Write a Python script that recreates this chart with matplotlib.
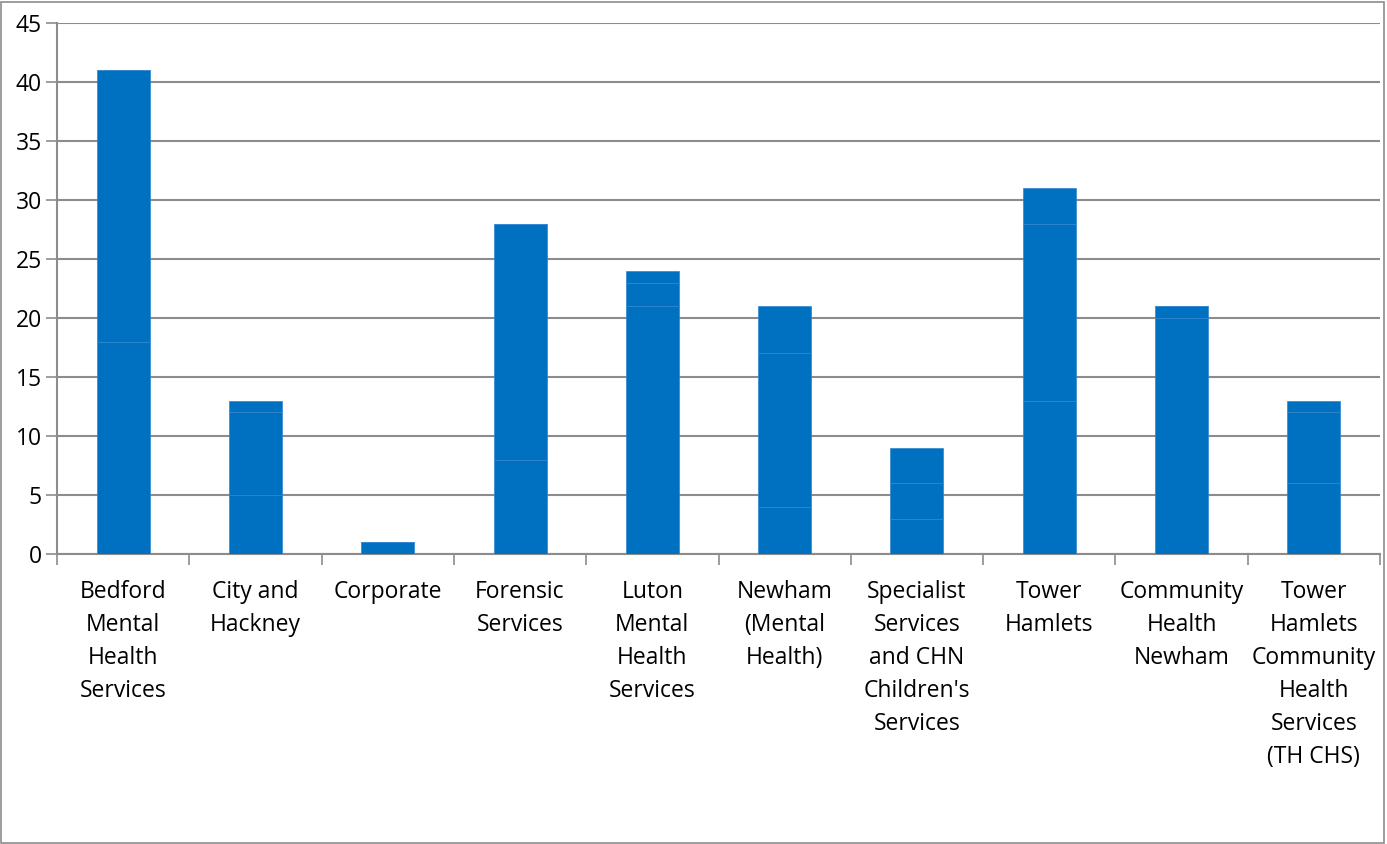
import numpy as np
import matplotlib
matplotlib.use("Agg")
import matplotlib.pyplot as plt
from matplotlib.patches import Rectangle

services = [
    "Bedford\nMental\nHealth\nServices",
    "City and\nHackney",
    "Corporate",
    "Forensic\nServices",
    "Luton\nMental\nHealth\nServices",
    "Newham\n(Mental\nHealth)",
    "Specialist\nServices\nand CHN\nChildren's\nServices",
    "Tower\nHamlets",
    "Community\nHealth\nNewham",
    "Tower\nHamlets\nCommunity\nHealth\nServices\n(TH CHS)",
]

# three stacked components per service
part1 = [18, 5, 1, 8, 21, 4, 3, 13, 20, 6]
part2 = [23, 7, 0, 20, 2, 13, 3, 15, 1, 6]
part3 = [0, 1, 0, 0, 1, 4, 3, 3, 0, 1]

yticks = [0, 5, 10, 15, 20, 25, 30, 35, 40, 45]

plt.rcParams["font.family"] = ["Open Sans", "DejaVu Sans"]

fig = plt.figure(figsize=(13.87, 8.44), dpi=100)
ax = fig.add_axes([57 / 1387, 290 / 844, 1323 / 1387, 531 / 844])

x = np.arange(len(services))
bar_col = "#0070C0"
edge_col = "#2F86D0"
w = 0.4

b1 = np.array(part1)
b2 = b1 + np.array(part2)
ax.bar(x, part1, width=w, color=bar_col, edgecolor=edge_col, linewidth=0.5, zorder=3)
ax.bar(x, part2, width=w, bottom=b1, color=bar_col, edgecolor=edge_col, linewidth=0.5, zorder=3)
ax.bar(x, part3, width=w, bottom=b2, color=bar_col, edgecolor=edge_col, linewidth=0.5, zorder=3)

ax.set_xlim(-0.5, len(services) - 0.5)
ax.set_ylim(0, 45)
ax.set_yticks(yticks)
ax.tick_params(axis="y", labelsize=16.5, length=8, width=1.2, color="#8C8C8C", pad=3)
ax.grid(axis="y", color="#8C8C8C", linewidth=1.5, zorder=0)

ax.set_xticks(x)
ax.set_xticklabels(services, fontsize=16.5, linespacing=1.5, va="top")
ax.tick_params(axis="x", which="major", length=0, pad=19)
ax.set_xticks(np.arange(-0.5, len(services), 1), minor=True)
ax.tick_params(axis="x", which="minor", length=8, width=1.2, color="#8C8C8C")

for s in ["top", "right"]:
    ax.spines[s].set_visible(False)
for s in ["left", "bottom"]:
    ax.spines[s].set_color("#8C8C8C")
    ax.spines[s].set_linewidth(1.5)

fig.patches.append(Rectangle((0.001, 0.001), 0.997, 0.997, transform=fig.transFigure,
                             fill=False, edgecolor="#8C8C8C", linewidth=1.2))

fig.savefig("out.png", dpi=100)
